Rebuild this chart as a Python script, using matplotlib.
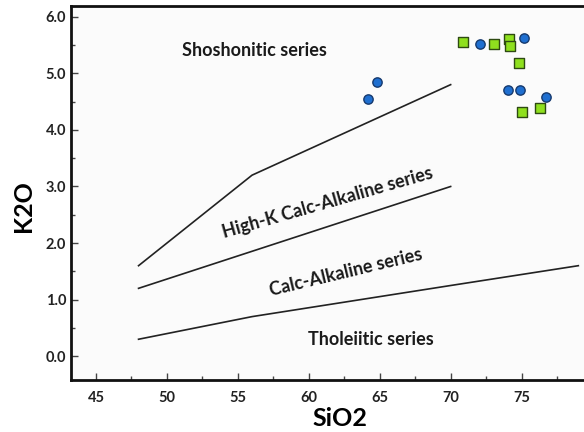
import matplotlib
matplotlib.use("Agg")
import matplotlib.pyplot as plt
from matplotlib.ticker import MultipleLocator, FormatStrFormatter

plt.rcParams['font.family'] = ['Lato', 'DejaVu Sans']

# Boundary lines (Peccerillo & Taylor style)
sho_x = [48, 56, 70]
sho_y = [1.6, 3.2, 4.8]
hik_x = [48, 70]
hik_y = [1.2, 3.0]
tho_x = [48, 56, 70, 79]
tho_y = [0.3, 0.7, 1.25, 1.6]

# Samples
circ_x = [64.2, 64.8, 72.1, 75.2, 74.05, 74.9, 76.7]
circ_y = [4.54, 4.84, 5.52, 5.63, 4.70, 4.70, 4.59]
sq_x = [70.85, 73.05, 74.1, 74.2, 74.8, 75.0, 76.3]
sq_y = [5.56, 5.51, 5.61, 5.48, 5.19, 4.31, 4.39]

labels = ["Shoshonitic series", "High-K Calc-Alkaline series",
          "Calc-Alkaline series", "Tholeiitic series"]
label_x = [56.2, 61.3, 62.6, 64.4]
label_y = [5.4, 2.72, 1.49, 0.30]
label_rot = [0, 16, 13.5, 0]

fig = plt.figure(figsize=(5.84, 4.32), dpi=100)
ax_left, ax_w = 0.1216, 0.8784
ax = fig.add_axes([ax_left, 0.1204, ax_w, 0.8657])
ax.set_facecolor('#fbfbfb')

lc = '#222222'
ax.plot(sho_x, sho_y, color=lc, lw=1.2)
ax.plot(hik_x, hik_y, color=lc, lw=1.2)
ax.plot(tho_x, tho_y, color=lc, lw=1.2)

ax.scatter(sq_x, sq_y, marker='s', s=55, facecolor='#8fe01e', edgecolor='#2e4a12', linewidth=1.0, zorder=3)
ax.scatter(circ_x, circ_y, marker='o', s=45, facecolor='#1f6fd0', edgecolor='#163a6e', linewidth=1.0, zorder=3)

for t, x, y, r in zip(labels, label_x, label_y, label_rot):
    ax.text(x, y, t, rotation=r, ha='center', va='center', fontsize=13,
            fontweight='bold', color='#1a1a1a', rotation_mode='anchor')

ax.set_xlim(43.24, 79.4)
ax.set_ylim(-0.42, 6.19)
ax.xaxis.set_major_locator(MultipleLocator(5))
ax.xaxis.set_minor_locator(MultipleLocator(2.5))
ax.yaxis.set_major_locator(MultipleLocator(1))
ax.yaxis.set_minor_locator(MultipleLocator(0.5))
ax.yaxis.set_major_formatter(FormatStrFormatter('%.1f'))
ax.tick_params(which='both', direction='in', top=False, right=False, color='#444444')
ax.tick_params(which='major', length=5, width=1)
ax.tick_params(which='minor', length=3, width=1)
ax.tick_params(labelsize=10.5, labelcolor='#222222')
ax.tick_params(axis='x', pad=8)
for lab in ax.get_xticklabels() + ax.get_yticklabels():
    lab.set_fontweight('bold')

for s in ['left', 'bottom', 'top']:
    ax.spines[s].set_linewidth(2)
    ax.spines[s].set_color('#111111')
ax.spines['right'].set_visible(False)

ax_px_w = ax_w * 584
ax.set_xlabel('SiO2', fontsize=18, fontweight='bold')
ax.set_ylabel('K2O', fontsize=18, fontweight='bold')
ax.xaxis.set_label_coords((340 - 71) / ax_px_w, -0.072)
ax.yaxis.set_label_coords(-(71 - 23) / ax_px_w, 0.465)
ax.yaxis.label.set_va('center')

fig.savefig('out.png', dpi=100)
